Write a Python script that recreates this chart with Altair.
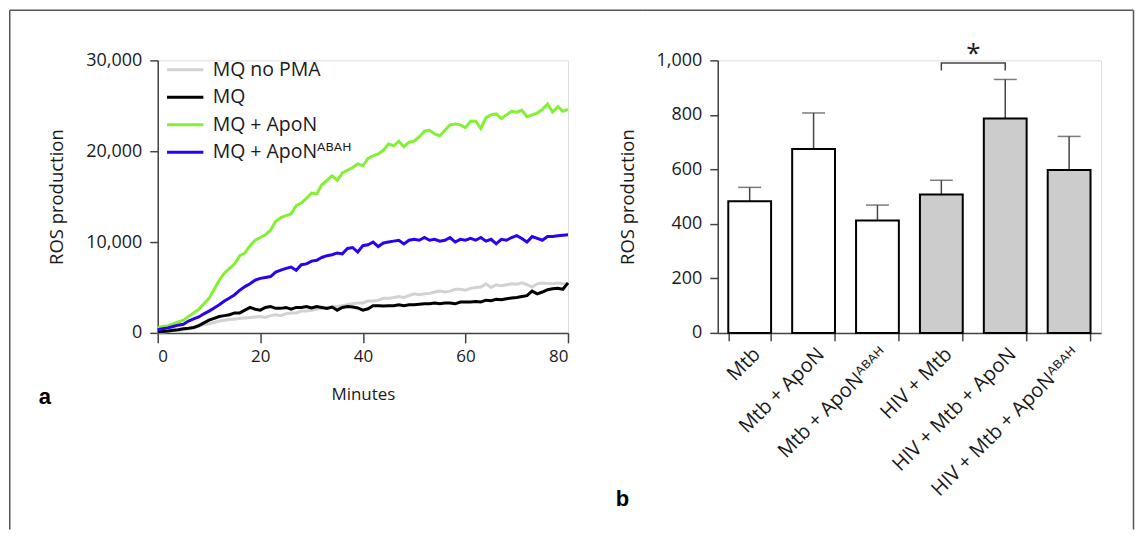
import altair as alt
import pandas as pd

# ---------------- Panel a data (ROS over time) ----------------
minutes = list(range(81))
series_names = ["MQ no PMA", "MQ", "MQ + ApoN", "MQ + ApoNᴬᴮᴬᴴ"]
series_colors = ["#d2d2d2", "#000000", "#84f033", "#2c00f0"]

mq_no_pma = [50, 100, 150, 200, 300, 350, 450, 550, 700, 900,
             1000, 1150, 1300, 1400, 1500, 1500, 1600, 1650, 1700, 1750,
             1800, 1700, 1900, 2000, 1900, 2100, 2200, 2200, 2400, 2400,
             2500, 2600, 2700, 2800, 2850, 2900, 3000, 3100, 3200, 3300,
             3300, 3500, 3500, 3600, 3800, 3800, 3900, 4000, 3900, 4100,
             4300, 4200, 4300, 4350, 4500, 4600, 4500, 4600, 4800, 4800,
             4700, 4900, 5000, 5050, 5400, 5000, 5300, 5200, 5300, 5400,
             5350, 5500, 5300, 5050, 5400, 5500, 5450, 5400, 5500, 5400,
             5400]
mq = [100, 150, 200, 300, 350, 450, 500, 600, 800, 1100,
      1400, 1600, 1800, 1900, 2000, 2200, 2200, 2500, 2800, 2600,
      2500, 2800, 2900, 2700, 2700, 2800, 2600, 2800, 2800, 2900,
      2750, 2900, 2800, 2700, 2850, 2500, 2800, 2900, 2850, 2750,
      2500, 2650, 3000, 3000, 2950, 3000, 3000, 3100, 3000, 3100,
      3100, 3150, 3200, 3200, 3300, 3200, 3300, 3300, 3200, 3400,
      3400, 3400, 3450, 3400, 3600, 3550, 3700, 3650, 3750, 3850,
      3900, 4000, 4100, 4600, 4300, 4500, 4750, 4850, 4900, 4800,
      5500]
mq_apon = [600, 700, 800, 1000, 1200, 1400, 1800, 2200, 2600, 3200,
           3800, 4800, 5800, 6600, 7100, 7600, 8500, 8800, 9600, 10200,
           10500, 10800, 11300, 12300, 12700, 12900, 13100, 14000, 14300, 14800,
           15400, 15300, 16300, 16800, 17300, 16800, 17600, 17900, 18200, 18600,
           18400, 19200, 19500, 19700, 20100, 20800, 20600, 21100, 20500, 21000,
           21100, 21600, 22200, 22300, 21900, 21700, 22300, 22900, 23000, 22900,
           22600, 23300, 23300, 22500, 23700, 24000, 24100, 23600, 24000, 24400,
           24300, 24500, 23800, 24000, 24200, 24600, 25200, 24300, 24900, 24400,
           24600]
mq_apon_abah = [350, 450, 550, 700, 850, 950, 1300, 1550, 1750, 2100,
                2400, 2750, 3100, 3500, 3850, 4200, 4700, 5100, 5400, 5800,
                6000, 6100, 6200, 6700, 6900, 7100, 7250, 6900, 7500, 7600,
                7900, 8000, 8300, 8500, 8600, 8800, 8700, 9300, 9400, 8900,
                9600, 9700, 10000, 9500, 9900, 10000, 10100, 10200, 9800, 10200,
                10300, 10200, 10500, 10200, 10300, 10100, 10200, 10500, 10000, 10300,
                10200, 10400, 10200, 10500, 10100, 10300, 9800, 10300, 10200, 10500,
                10700, 10400, 10000, 10600, 10400, 10200, 10600, 10600, 10700, 10750,
                10800]

# ---------------- Panel b data (bars) ----------------
categories = ["Mtb", "Mtb + ApoN", "Mtb + ApoNᴬᴮᴬᴴ",
              "HIV + Mtb", "HIV + Mtb + ApoN", "HIV + Mtb + ApoNᴬᴮᴬᴴ"]
groups = ["no HIV", "no HIV", "no HIV", "HIV", "HIV", "HIV"]
means = [483, 675, 412, 508, 787, 598]
upper = [534, 807, 469, 560, 930, 721]

bracket_cats = ["HIV + Mtb", "HIV + Mtb", "HIV + Mtb + ApoN", "HIV + Mtb + ApoN"]
bracket_vals = [963, 990, 990, 963]
star_value = 1022

FONT = "Open Sans, DejaVu Sans"

rows = []
for name, vals in zip(series_names, [mq_no_pma, mq, mq_apon, mq_apon_abah]):
    assert len(vals) == len(minutes)
    for m, v in zip(minutes, vals):
        rows.append({"Series": name, "Minutes": m, "ROS": v})
line_df = pd.DataFrame(rows)

bar_df = pd.DataFrame({"Condition": categories, "Group": groups,
                       "Mean": means, "Upper": upper})
bracket_df = pd.DataFrame({"Condition": bracket_cats, "Val": bracket_vals,
                           "i": list(range(len(bracket_cats)))})
star_df = pd.DataFrame({"Condition": ["HIV + Mtb"], "Val": [star_value], "t": ["*"]})
one = pd.DataFrame({"k": [0]})

AX = dict(domainColor="#444444", tickColor="#444444", domainWidth=1.5, tickWidth=1.5,
          labelFont=FONT, labelColor="#1a1a1a",
          titleFont=FONT, titleFontWeight="normal", titleColor="#1a1a1a",
          grid=False)

LW, LH = 411, 273
RW, RH = 384, 273

# ---------------- Panel a ----------------
lines = alt.Chart(line_df).mark_line(strokeWidth=3).encode(
    x=alt.X("Minutes:Q", scale=alt.Scale(domain=[0, 80], nice=False),
            axis=alt.Axis(values=[0, 20, 40, 60, 80], title="Minutes", tickSize=10,
                          labelFontSize=17, titleFontSize=17,
                          labelPadding=6, titlePadding=22, **AX)),
    y=alt.Y("ROS:Q", scale=alt.Scale(domain=[0, 30000], nice=False),
            axis=alt.Axis(values=[0, 10000, 20000, 30000], format=",.0f",
                          title="ROS production", labelFontSize=18, titleFontSize=18.5,
                          tickSize=8, labelPadding=8, titlePadding=19, **AX)),
    color=alt.Color("Series:N", scale=alt.Scale(domain=series_names, range=series_colors),
                    legend=alt.Legend(title=None, orient="none", legendX=13, legendY=-5,
                                      symbolType="M-1.4,0H1.4", symbolSize=676,
                                      symbolStrokeWidth=3, labelFont=FONT, labelFontSize=19.5,
                                      labelColor="#1a1a1a", labelOffset=13, rowPadding=3.5,
                                      padding=0, labelLimit=400)),
    order=alt.Order("Minutes:Q"),
)

frame_l_v = alt.Chart(one).mark_rule(color="#555555", strokeWidth=1.5).encode(
    x=alt.value(-148.25), y=alt.value(-50.25), y2=alt.value(470))
frame_l_h = alt.Chart(one).mark_rule(color="#555555", strokeWidth=1.5).encode(
    x=alt.value(-148.25), x2=alt.value(LW + 75), y=alt.value(-50.25))
label_a = alt.Chart(one).mark_text(text="a", font="Liberation Sans", fontSize=22,
                                   fontWeight="bold", align="center", baseline="alphabetic",
                                   color="#000000").encode(
    x=alt.value(-113), y=alt.value(344))

left = alt.layer(lines, frame_l_v, frame_l_h, label_a).properties(width=LW, height=LH)

# ---------------- Panel b ----------------
xenc = alt.X("Condition:N", sort=categories,
             scale=alt.Scale(domain=categories, paddingInner=0.33, paddingOuter=0.165),
             axis=alt.Axis(title=None, labelAngle=-45, labelAlign="right", labelBaseline="top",
                           tickBand="extent", tickSize=8, labelPadding=3, labelFontSize=20,
                           labelLimit=400, **AX))
yscale = alt.Scale(domain=[0, 1000], nice=False)
yaxis = alt.Axis(values=[0, 200, 400, 600, 800, 1000], format=",.0f", title="ROS production",
                 tickSize=8, labelPadding=8, titlePadding=19, labelFontSize=18,
                 titleFontSize=18.5, **AX)

bars = alt.Chart(bar_df).mark_bar(stroke="#000000", strokeWidth=2).encode(
    x=xenc,
    y=alt.Y("Mean:Q", scale=yscale, axis=yaxis),
    fill=alt.Fill("Group:N", scale=alt.Scale(domain=["no HIV", "HIV"],
                                             range=["#ffffff", "#cccccc"]), legend=None),
)
err = alt.Chart(bar_df).mark_rule(color="#444444", strokeWidth=1.5).encode(
    x=alt.X("Condition:N", sort=categories), y=alt.Y("Mean:Q"), y2="Upper:Q")
cap = alt.Chart(bar_df).mark_tick(color="#444444", thickness=1.5, size=23).encode(
    x=alt.X("Condition:N", sort=categories), y=alt.Y("Upper:Q"))
bracket = alt.Chart(bracket_df).mark_line(color="#444444", strokeWidth=1.5).encode(
    x=alt.X("Condition:N", sort=categories), y=alt.Y("Val:Q"), order=alt.Order("i:Q"))
star = alt.Chart(star_df).mark_text(font=FONT, fontSize=26, dx=32, baseline="middle",
                                    color="#1a1a1a").encode(
    x=alt.X("Condition:N", sort=categories), y=alt.Y("Val:Q"), text="t:N")
label_b = alt.Chart(one).mark_text(text="b", font="Liberation Sans", fontSize=22,
                                   fontWeight="bold", align="center", baseline="alphabetic",
                                   color="#000000").encode(
    x=alt.value(-95.5), y=alt.value(446))
frame_r_h = alt.Chart(one).mark_rule(color="#555555", strokeWidth=1.5).encode(
    x=alt.value(-75), x2=alt.value(416.5), y=alt.value(-50.25))
frame_r_v = alt.Chart(one).mark_rule(color="#555555", strokeWidth=1.5).encode(
    x=alt.value(416.5), y=alt.value(-50.25), y2=alt.value(470))

right = alt.layer(err, cap, bars, bracket, star, label_b, frame_r_h, frame_r_v).properties(
    width=RW, height=RH)

chart = alt.hconcat(left, right, spacing=150, bounds="flush").properties(
    padding=0
).configure_view(stroke=None).configure(background="white")

chart.save("out.html", embed_options={"renderer": "svg", "actions": False})
